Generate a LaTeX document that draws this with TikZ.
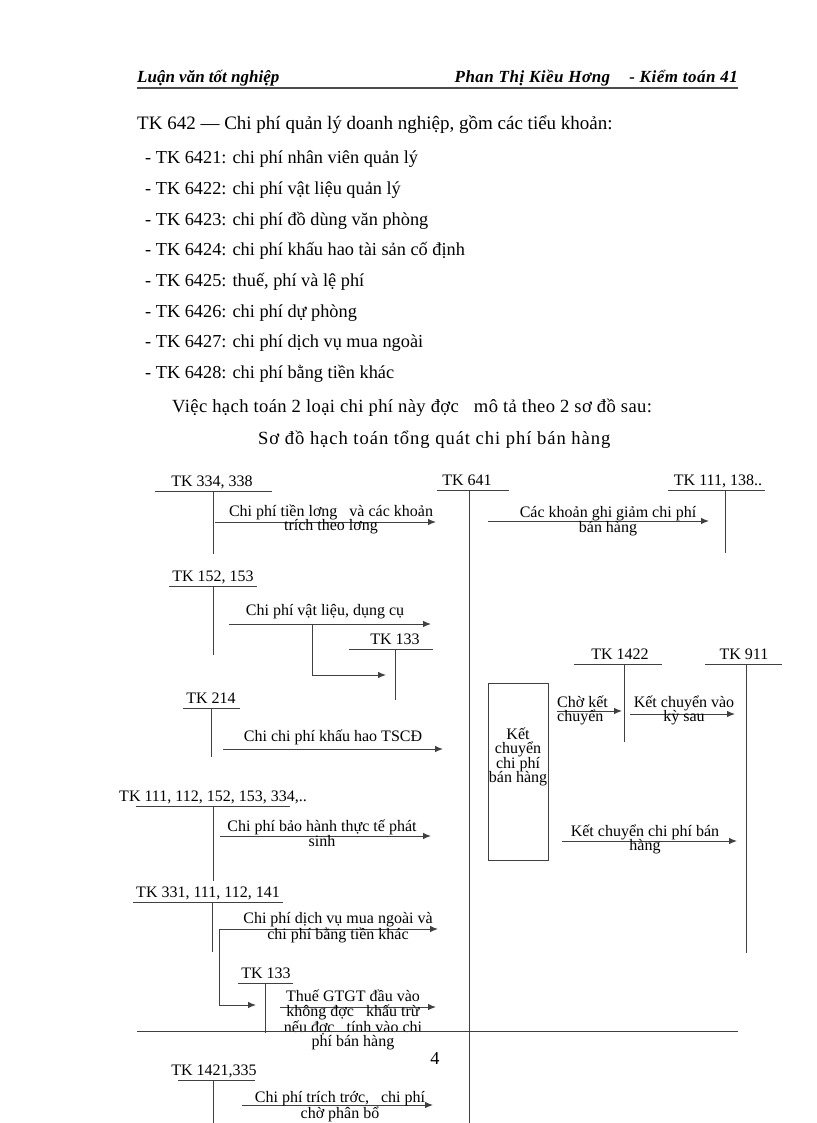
\documentclass[tikz,border=0pt]{standalone}
\usepackage{fontspec}
\setmainfont{Liberation Serif}
\usetikzlibrary{arrows.meta}
\newcommand\bodyfs{\fontsize{18.3}{21}\selectfont}
\newcommand\diafs{\fontsize{16}{14.6}\selectfont}
\newcommand\headfs{\fontsize{17}{20}\selectfont\bfseries\itshape}
% T-account: name, label, label x, line y, line x1, line x2, stem x, stem end y
\newcommand\tacc[8]{%
  \node[acclbl] (#1) at (#3,#4-5) {#2};
  \coordinate (#1-l) at (#5,#4);
  \coordinate (#1-r) at (#6,#4);
  \coordinate (#1-t) at (#7,#4);
  \coordinate (#1-b) at (#7,#8);
  \draw[ln] (#1-l) -- (#1-r);
  \draw[ln] (#1-t) -- (#1-b);}
\begin{document}
\begin{tikzpicture}[x=1pt,y=-1pt,
  ln/.style={draw=black!75,line width=1pt},
  arr/.style={ln,-{Latex[length=8pt,width=6.5pt]}},
  body/.style={font=\bodyfs,anchor=base west,inner sep=0pt},
  head/.style={font=\headfs,inner sep=0pt,anchor=base},
  acclbl/.style={font=\diafs,anchor=base,inner sep=0pt},
  lbl/.style={font=\diafs,align=center,inner sep=0pt},
  lbll/.style={font=\diafs,align=left,inner sep=0pt,anchor=west}]
\useasboundingbox (0,0) rectangle (816,1123);

% ---------- header ----------
\node[head,anchor=base west] (hleft) at (137,83) {Luận văn tốt nghiệp};
\node[head,anchor=base east,font=\headfs\addfontfeatures{LetterSpace=3}] (hright) at (738,83) {Phan Thị Kiều Hơng \ \ \ - Kiểm toán 41};
\coordinate (hr1) at (137,88);
\coordinate (hr2) at (738,88);
\draw[draw=black!70,line width=1.6pt] (hr1) -- (hr2);

% ---------- body text ----------
\node[body,font=\fontsize{19}{21}\selectfont] (t0) at (137,130) {TK 642 — Chi phí quản lý doanh nghiệp, gồm các tiểu khoản:};
\node[body] (t1) at (145,164) {- TK 6421: chi phí nhân viên quản lý};
\node[body] (t2) at (145,194.6) {- TK 6422: chi phí vật liệu quản lý};
\node[body] (t3) at (145,225.2) {- TK 6423: chi phí đồ dùng văn phòng};
\node[body] (t4) at (145,255.8) {- TK 6424: chi phí khấu hao tài sản cố định};
\node[body] (t5) at (145,286.4) {- TK 6425: thuế, phí và lệ phí};
\node[body] (t6) at (145,317) {- TK 6426: chi phí dự phòng};
\node[body] (t7) at (145,347.6) {- TK 6427: chi phí dịch vụ mua ngoài};
\node[body] (t8) at (145,378) {- TK 6428: chi phí bằng tiền khác};
\node[body,font=\fontsize{18.6}{21}\selectfont\addfontfeatures{LetterSpace=2}] (t9) at (172,412) {Việc hạch toán 2 loại chi phí này đợc \ \ mô tả theo 2 sơ đồ sau:};
\node[body,font=\fontsize{18.6}{21}\selectfont\addfontfeatures{LetterSpace=5}] (t10) at (258,444) {Sơ đồ hạch toán tổng quát chi phí bán hàng};

% ---------- T-accounts ----------
\tacc{k334}{TK 334, 338}{212}{491}{155}{272}{213}{554}
\tacc{k641}{TK 641}{467}{490}{437}{509}{469}{1123}
\tacc{k111}{TK 111, 138..}{718}{490}{668}{765}{725}{553}
\tacc{k152}{TK 152, 153}{213}{586}{169}{257}{213}{655}
\tacc{k133a}{TK 133}{395}{649}{349}{433}{395}{700}
\tacc{k214}{TK 214}{211}{708}{183}{240}{211}{757}
\tacc{k111b}{TK 111, 112, 152, 153, 334,..}{213}{806}{136}{290}{213}{881}
\tacc{k331}{TK 331, 111, 112, 141}{208}{902}{133}{283}{212}{952}
\tacc{k133b}{TK 133}{266}{983}{238}{293}{265}{1033}
\tacc{k1421}{TK 1421,335}{214}{1080}{178}{255}{213}{1123}
\tacc{k1422}{TK 1422}{620}{664}{574}{662}{624}{742}
\tacc{k911}{TK 911}{744}{664}{705}{782}{746}{953}

% ---------- arrows and labels (left side) ----------
\coordinate (a1s) at (215,522); \coordinate (a1e) at (436,522);
\draw[arr] (a1s) -- (a1e);
\node[lbl] (l1) at (331,519.5) {Chi phí tiền lơng \ \ và các khoản\\trích theo lơng};

\coordinate (a2s) at (229,624); \coordinate (a2e) at (431,624);
\draw[arr] (a2s) -- (a2e);
\node[lbl] (l2) at (325,612) {Chi phí vật liệu, dụng cụ};
\coordinate (b2s) at (312,624); \coordinate (b2e) at (386,675);
\draw[arr] (b2s) |- (b2e);

\coordinate (a3s) at (223,749); \coordinate (a3e) at (443,749);
\draw[arr] (a3s) -- (a3e);
\node[lbl] (l3) at (333,737) {Chi chi phí khấu hao TSCĐ};

\coordinate (a4s) at (220,836); \coordinate (a4e) at (431,836);
\draw[arr] (a4s) -- (a4e);
\node[lbl] (l4) at (322,833.5) {Chi phí bảo hành thực tế phát\\sinh};

\coordinate (a5s) at (219,929); \coordinate (a5e) at (438,929);
\draw[arr] (a5s) -- (a5e);
\node[lbl] (l5) at (338,927.5) {Chi phí dịch vụ mua ngoài và\\chi phí bằng tiền khác};
\coordinate (b5e) at (256,1005);
\draw[arr] (a5s) |- (b5e);

\coordinate (a6s) at (280,1007); \coordinate (a6e) at (436,1007);
\draw[arr] (a6s) -- (a6e);
\node[lbl] (l6) at (353,1020) {Thuế GTGT đầu vào\\không đợc \ \ khấu trừ\\nếu đợc \ \ tính vào chi\\phí bán hàng};

\coordinate (a7s) at (242,1105); \coordinate (a7e) at (433,1105);
\draw[arr] (a7s) -- (a7e);
\node[lbl] (l7) at (340,1106.5) {Chi phí trích trớc, \ \ chi phí\\chờ phân bổ};

% ---------- arrows and labels (right side) ----------
\coordinate (a8s) at (488,521); \coordinate (a8e) at (709,521);
\draw[arr] (a8s) -- (a8e);
\node[lbl] (l8) at (608,521) {Các khoản ghi giảm chi phí\\bán hàng};

\node[draw=black!75,line width=1pt,minimum width=60pt,minimum height=177pt,inner sep=0pt] (box) at (518,771.5) {};
\node[lbl] (boxtxt) at (518,757) {Kết\\chuyển\\chi phí\\bán hàng};

\coordinate (a9s) at (557,711); \coordinate (a9e) at (622,711);
\draw[arr] (a9s) -- (a9e);
\node[lbll] (l9) at (557,710.5) {Chờ kết\\chuyển};

\coordinate (a10s) at (630,714); \coordinate (a10e) at (735,714);
\draw[arr] (a10s) -- (a10e);
\node[lbl] (l10) at (684,710.5) {Kết chuyển vào\\kỳ sau};

\coordinate (a11s) at (562,841); \coordinate (a11e) at (737,841);
\draw[arr] (a11s) -- (a11e);
\node[lbl] (l11) at (645,839.5) {Kết chuyển chi phí bán\\hàng};

% ---------- footer ----------
\coordinate (f1) at (137,1031); \coordinate (f2) at (738,1031);
\draw[draw=black!75,line width=1pt] (f1) -- (f2);
\node[font=\bodyfs,inner sep=0pt] (pg) at (435,1058) {4};
\end{tikzpicture}
\end{document}
